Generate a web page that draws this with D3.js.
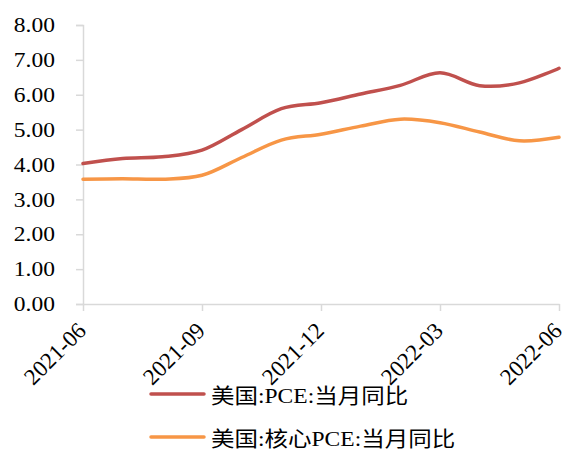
<!DOCTYPE html>
<html>
<head>
<meta charset="utf-8">
<script src="https://cdn.jsdelivr.net/npm/d3@7"></script>
<style>
  body { margin: 0; background: #fff; }
  svg { display: block; }
  .axis text { font-family: "Liberation Serif", "Times New Roman", serif; fill: #000; }
  .axis path, .axis line { stroke: #d9d9d9; stroke-width: 1.5px; }
  .legend text { font-family: "Liberation Serif", "Noto Sans CJK SC", serif; font-size: 21px; fill: #000; }
</style>
</head>
<body>
<div id="chart"></div>
<script>
// data
const months = ["2021-06", "2021-07", "2021-08", "2021-09", "2021-10", "2021-11", "2021-12",
                "2022-01", "2022-02", "2022-03", "2022-04", "2022-05", "2022-06"];
const pce = [4.03, 4.17, 4.22, 4.41, 5.0, 5.6, 5.77, 6.02, 6.27, 6.63, 6.26, 6.34, 6.76];
const corePce = [3.58, 3.59, 3.58, 3.69, 4.2, 4.7, 4.87, 5.1, 5.3, 5.2, 4.93, 4.68, 4.78];
const xTickLabels = ["2021-06", "2021-09", "2021-12", "2022-03", "2022-06"];
const yTicks = [0, 1, 2, 3, 4, 5, 6, 7, 8];
const seriesNames = ["美国:PCE:当月同比", "美国:核心PCE:当月同比"];
const colors = ["#c0504d", "#f79646"];

const width = 572, height = 450;
const margin = { left: 83, right: 13, top: 25, bottom: 146 };

const svg = d3.select("#chart").append("svg")
    .attr("width", width)
    .attr("height", height);

const x = d3.scalePoint()
    .domain(months)
    .range([margin.left, width - margin.right]);

const y = d3.scaleLinear()
    .domain([0, 8])
    .range([height - margin.bottom, margin.top]);

// y axis
const yAxis = svg.append("g")
    .attr("class", "axis")
    .attr("transform", `translate(${margin.left},0)`)
    .call(d3.axisLeft(y).tickValues(yTicks).tickFormat(d3.format(".2f")).tickSize(7));
yAxis.selectAll("text")
    .style("font-size", "21px")
    .attr("x", 0)
    .attr("transform", "translate(-28,0) scale(1.12,1)");

// x axis
const xAxis = svg.append("g")
    .attr("class", "axis")
    .attr("transform", `translate(0,${height - margin.bottom})`)
    .call(d3.axisBottom(x).tickValues(xTickLabels).tickSize(7).tickSizeOuter(0));
xAxis.selectAll("text")
    .style("font-size", "23px")
    .style("text-anchor", "end")
    .attr("x", 0)
    .attr("y", 0)
    .attr("dy", 0)
    .attr("transform", "translate(4,28) rotate(-45)");

// lines
const line = d3.line()
    .x((d, i) => x(months[i]))
    .y(d => y(d))
    .curve(d3.curveCardinal.tension(0));

[pce, corePce].forEach((s, k) => {
    svg.append("path")
        .datum(s)
        .attr("fill", "none")
        .attr("stroke", colors[k])
        .attr("stroke-width", 3.5)
        .attr("stroke-linecap", "round")
        .attr("d", line);
});

// legend
const legend = svg.append("g").attr("class", "legend");
seriesNames.forEach((name, k) => {
    const ly = 394 + k * 43;
    legend.append("line")
        .attr("x1", 151).attr("x2", 204)
        .attr("y1", ly).attr("y2", ly)
        .attr("stroke", colors[k])
        .attr("stroke-width", 3.5)
        .attr("stroke-linecap", "round");
    legend.append("text")
        .attr("transform", `translate(211,${ly + 9}) scale(1.12,1)`)
        .text(name);
});
</script>
</body>
</html>
